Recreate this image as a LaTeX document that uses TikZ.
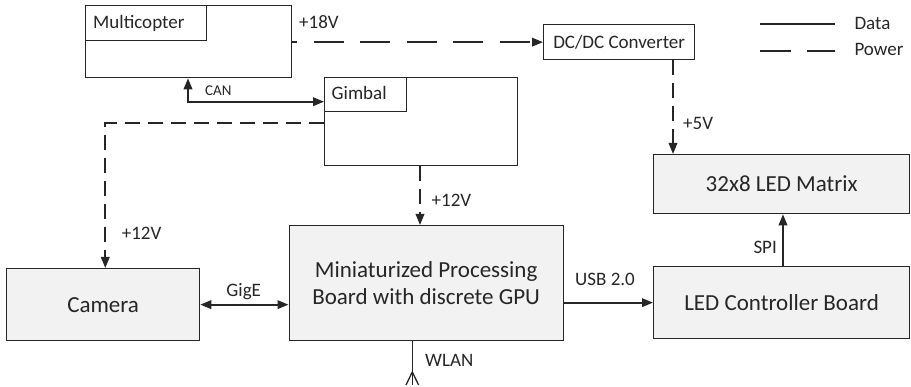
\documentclass[tikz,border=0pt]{standalone}
\usepackage{fontspec}
\setmainfont{Carlito}
\usetikzlibrary{arrows.meta}
\definecolor{ink}{HTML}{262626}
\definecolor{panel}{HTML}{F2F2F2}
\begin{document}
\begin{tikzpicture}[x=1pt,y=-1pt,
  frame/.style={draw=ink, line width=1.3pt, inner sep=0pt, anchor=north west, fill=white},
  block/.style={frame, fill=panel, text=ink, align=center,
    font=\fontsize{23}{26.7}\selectfont},
  tag/.style={text=ink, inner sep=0pt, font=\fontsize{19}{22}\selectfont},
  smalltag/.style={tag, font=\fontsize{15}{18}\selectfont},
  tip/.style={Triangle[length=11pt,width=8.5pt]},
  data/.style={draw=ink, line width=1.9pt, arrows={-{Triangle[length=11pt,width=8.5pt]}}},
  pwr/.style={data, dash pattern=on 15pt off 8pt},
  pwrlong/.style={data, dash pattern=on 30pt off 16.5pt, dash phase=25pt},
]
\useasboundingbox (0,0) rectangle (911,387);

% units and blocks
\node[frame, minimum width=206pt, minimum height=72pt] (multi) at (85,5) {};
\node[frame, minimum width=121pt, minimum height=35pt] (multitag) at (85,5) {};
\node[frame, minimum width=193pt, minimum height=88pt] (gimbal) at (324,77) {};
\node[frame, minimum width=82pt, minimum height=34pt] (gimbaltag) at (324,77) {};
\node[frame, minimum width=151pt, minimum height=35pt, text=ink,
      font=\fontsize{19}{22}\selectfont] (dcdc) at (543,24) {DC/DC Converter};
\node[block, minimum width=256pt, minimum height=59pt] (led) at (653,154) {32x8 LED Matrix};
\node[block, minimum width=256pt, minimum height=72pt] (ctrl) at (653,266) {LED Controller Board};
\node[block, minimum width=274pt, minimum height=115pt] (proc) at (288.5,225)
  {Miniaturized Processing\\Board with discrete GPU};
\node[block, minimum width=193pt, minimum height=72pt] (camera) at (6,268) {Camera};

\node[tag, anchor=base west] (multilbl) at (93,29) {Multicopter};
\node[tag, anchor=base west] (gimballbl) at (331.5,100) {Gimbal};

% data links
\draw[data, arrows={{Triangle[length=11pt,width=8.5pt]}-{Triangle[length=11pt,width=8.5pt]}}]
  ([xshift=103pt]multi.south west) |- ([yshift=-24.7pt]gimbal.north west);
\draw[data, arrows={{Triangle[length=11pt,width=8.5pt]}-{Triangle[length=11pt,width=8.5pt]}}]
  (camera.east) -- (proc.west |- camera.east);
\draw[data] (proc.east |- ctrl.west) -- (ctrl.west);
\draw[data] ([xshift=130pt]ctrl.north west) -- ([xshift=130pt]led.south west);

% power links
\draw[pwrlong] (multi.east |- dcdc.west) -- (dcdc.west);
\draw[pwr] ([xshift=130pt]dcdc.south west) -- ([xshift=20pt]led.north west);
\draw[pwr] ([yshift=-46.3pt]gimbal.north west) -| ([xshift=99.3pt]camera.north west);
\draw[pwr] ([xshift=96pt]gimbal.south west) -- ([xshift=131.5pt]proc.north west);

% WLAN antenna
\coordinate (ant) at (412.3,385);
\coordinate (antfork) at (412.3,372);
\draw[ink, line width=1.5pt] ([xshift=123.8pt]proc.south west) -- (ant);
\draw[ink, line width=1.3pt] (antfork) -- ++(-6.3,13) (antfork) -- ++(6.3,13);

% link labels
\node[smalltag, anchor=base west] (canlbl) at (205,96) {CAN};
\node[tag, anchor=base west] (v18) at (299,28.3) {+18V};
\node[tag, anchor=base west] (v5) at (683,129.3) {+5V};
\node[tag, anchor=base west] (v12a) at (431.5,206.7) {+12V};
\node[tag, anchor=base west] (v12b) at (121.7,239.3) {+12V};
\node[tag, anchor=base] (gige) at (243.7,296.7) {GigE};
\node[tag, anchor=base west] (usb) at (575,286) {USB 2.0};
\node[tag, anchor=base west] (spi) at (753.3,253.3) {SPI};
\node[tag, anchor=base west] (wlan) at (425,366.7) {WLAN};

% legend
\coordinate (lda) at (760,24);
\coordinate (ldb) at (835,24);
\coordinate (lpa) at (760,51);
\coordinate (lpb) at (835,51);
\draw[ink, line width=1.9pt] (lda) -- (ldb);
\draw[ink, line width=1.9pt, dash pattern=on 31pt off 16pt] (lpa) -- (lpb);
\node[tag, anchor=base west] (datalbl) at (854.3,29.3) {Data};
\node[tag, anchor=base west] (powerlbl) at (854.3,56) {Power};
\end{tikzpicture}
\end{document}
